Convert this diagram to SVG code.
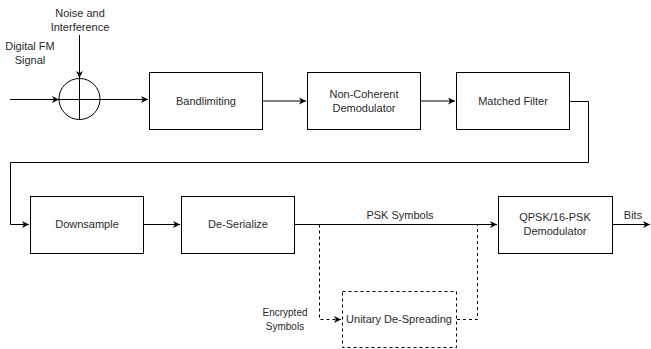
<svg xmlns="http://www.w3.org/2000/svg" width="651" height="349" viewBox="0 0 651 349">
<defs>
<marker id="ah" markerWidth="8" markerHeight="8" refX="7" refY="4" orient="auto" markerUnits="userSpaceOnUse">
<path d="M0,0.5 L7,4 L0,7.5 L2,4 Z" fill="#000"/>
</marker>
<style>
.box{fill:#fff;stroke:#000;stroke-width:1}
.dbox{fill:#fff;stroke:#000;stroke-width:1;stroke-dasharray:3,3}
.t{font-family:"Liberation Sans",Arial,sans-serif;font-size:11px;fill:#2a2a2a;text-anchor:middle}
.ln{fill:none;stroke:#000;stroke-width:1}
.dl{fill:none;stroke:#000;stroke-width:1;stroke-dasharray:3,3}
</style>
</defs>
<rect width="651" height="349" fill="#fff"/>
<g id="connectors">
<path class="ln" d="M10,99.5 L59,99.5" marker-end="url(#ah)"/>
<path class="ln" d="M79.5,35 L79.5,78" marker-end="url(#ah)"/>
<path class="ln" d="M100,99.5 L148,99.5" marker-end="url(#ah)"/>
<path class="ln" d="M263,101 L306,101" marker-end="url(#ah)"/>
<path class="ln" d="M421,101 L455,101" marker-end="url(#ah)"/>
<path class="ln" d="M570,101.5 L588.5,101.5 L588.5,162.5 L10.5,162.5 L10.5,224.5 L29,224.5" marker-end="url(#ah)"/>
<path class="ln" d="M144,224.5 L180,224.5" marker-end="url(#ah)"/>
<path class="ln" d="M295,224.5 L497,224.5" marker-end="url(#ah)"/>
<path class="ln" d="M613,224.5 L650,224.5" marker-end="url(#ah)"/>
<path class="dl" d="M319.5,224.5 L319.5,319.5 L341,319.5" marker-end="url(#ah)"/>
<path class="dl" d="M457,319.5 L477.5,319.5 L477.5,224.5"/>
</g>
<g id="noise-label"><text class="t" x="80" y="17">Noise and</text><text class="t" x="80" y="31">Interference</text></g>
<g id="input-label"><text class="t" x="30" y="50">Digital FM</text><text class="t" x="30" y="64">Signal</text></g>
<g id="summer">
<circle cx="79.5" cy="99" r="20.5" fill="#fff" stroke="#000"/>
<path class="ln" d="M59,99.5 L100,99.5 M79.5,78.5 L79.5,119.5"/>
</g>
<g id="bandlimiting"><rect class="box" x="149.5" y="72.5" width="113" height="57"/><text class="t" x="206" y="105">Bandlimiting</text></g>
<g id="noncoherent"><rect class="box" x="307.5" y="72.5" width="113" height="57"/><text class="t" x="364" y="98">Non-Coherent</text><text class="t" x="364" y="112">Demodulator</text></g>
<g id="matched"><rect class="box" x="456.5" y="72.5" width="113" height="57"/><text class="t" x="513" y="105">Matched Filter</text></g>
<g id="downsample"><rect class="box" x="30.5" y="196.5" width="113" height="57"/><text class="t" x="87" y="228">Downsample</text></g>
<g id="deserialize"><rect class="box" x="181.5" y="196.5" width="113" height="57"/><text class="t" x="238" y="228">De-Serialize</text></g>
<g id="psk-label"><text class="t" x="400" y="219">PSK Symbols</text></g>
<g id="qpsk"><rect class="box" x="498.5" y="196.5" width="114" height="57"/><text class="t" x="555" y="221">QPSK/16-PSK</text><text class="t" x="555" y="235">Demodulator</text></g>
<g id="bits-label"><text class="t" x="633" y="219">Bits</text></g>
<g id="encrypted-label"><text class="t" x="285" y="316" style="font-size:10px">Encrypted</text><text class="t" x="285" y="330" style="font-size:10px">Symbols</text></g>
<g id="despreading"><rect class="dbox" x="342.5" y="291.5" width="114" height="56"/><text class="t" x="399" y="323">Unitary De-Spreading</text></g>
</svg>
